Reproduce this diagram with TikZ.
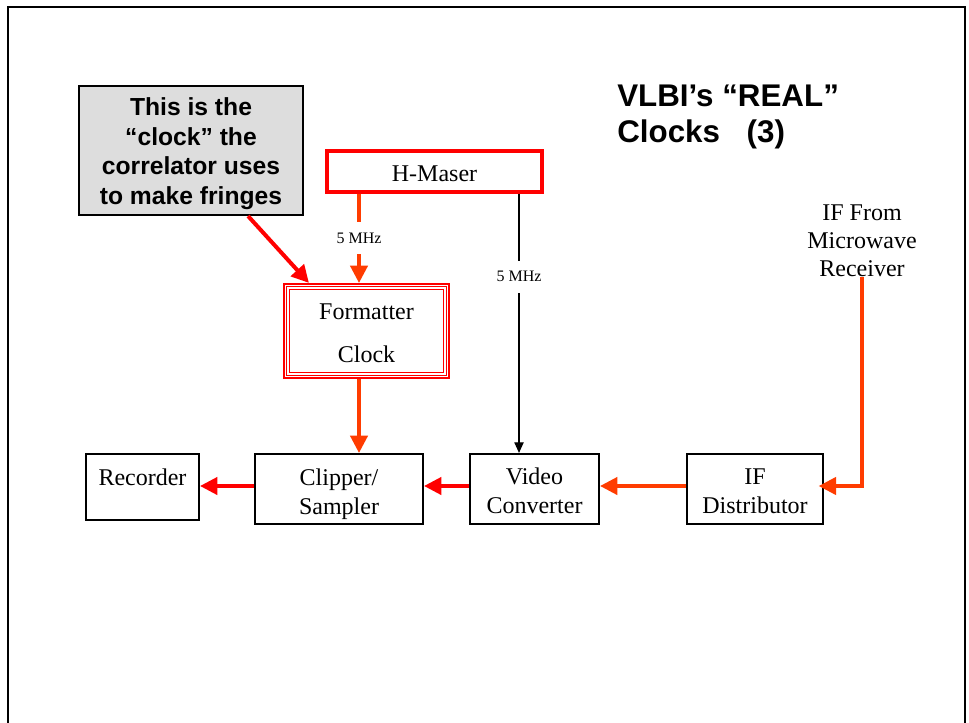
\documentclass[tikz,border=0pt]{standalone}
\usepackage{fontspec}
\setmainfont{Liberation Serif}
\setsansfont{Liberation Sans}
\usetikzlibrary{arrows.meta}
\definecolor{ored}{RGB}{255,60,0}
\definecolor{rred}{RGB}{255,0,0}
\definecolor{cgray}{RGB}{221,221,221}
\newcommand\mytstrut[1]{\rule{0pt}{#1}}
\begin{document}
\begin{tikzpicture}[x=0.75pt,y=-0.75pt,
  sz/.style 2 args={minimum width=#1*0.75pt,minimum height=#2*0.75pt},
  box/.style={draw=black,line width=1.6pt,inner sep=0pt,align=center,
    font=\fontsize{18}{21.75}\selectfont},
  arr/.style={line width=2.5pt,-{Triangle[length=13pt,width=13pt]}},
  lbl/.style={text=black,font=\fontsize{12}{14}\selectfont,fill=white,inner xsep=1pt,inner ysep=8pt},
  ttl/.style={font=\sffamily\bfseries\fontsize{23.5}{27}\selectfont,anchor=base west,inner sep=0pt}
]
\useasboundingbox (0,0) rectangle (969,723);
\fill[white] (0,0) rectangle (969,723);
\draw[line width=2.2pt] (8,723) -- (8,7) -- (965,7) -- (965,723);

% helper coordinates
\coordinate (colA) at (359,0);
\coordinate (colB) at (519,0);
\coordinate (row) at (0,486);

% callout
\node[draw=black,fill=cgray,line width=1.6pt,sz={224}{129},inner sep=0pt,
  align=center,font=\sffamily\bfseries\fontsize{18.5}{22.2}\selectfont] (call) at (191,150.5)
  {\mytstrut{18pt}This is the\\ “clock” the\\ correlator uses\\ to make fringes};

% title
\node[ttl] (t1) at (617,107) {VLBI’s “REAL”};
\node[ttl] (t2) at (617,143) {Clocks\hspace{20pt}(3)};

% H-Maser
\node[draw=rred,line width=2.6pt,sz={215}{41},inner sep=0pt,
  font=\fontsize{18}{21.75}\selectfont] (maser) at (434.5,171.5) {\mytstrut{15.5pt}H-Maser};

% Formatter clock (triple red border)
\node[draw=rred,line width=1.6pt,sz={165}{94},inner sep=0pt,align=center,
  font=\fontsize{18}{32}\selectfont] (fmt) at (366.5,331) {\mytstrut{15.5pt}Formatter\\ Clock};
\draw[rred,line width=0.8pt] ([shift={(3.5,3.5)}]fmt.north west) rectangle ([shift={(-3.5,-3.5)}]fmt.south east);
\draw[rred,line width=1.2pt] ([shift={(6.5,6.5)}]fmt.north west) rectangle ([shift={(-6.5,-6.5)}]fmt.south east);

% IF source text
\node[align=center,inner sep=0pt,font=\fontsize{18}{21}\selectfont] (iftxt) at (862,241)
  {IF From\\ Microwave\\ Receiver};

% bottom row
\node[box,sz={113}{66}] (rec) at (142.5,487) {\mytstrut{20pt}Recorder\\ \mbox{}};
\node[box,sz={168}{70}] (clip) at (339,489) {\mytstrut{20pt}Clipper/\\ Sampler};
\node[box,sz={129}{70}] (vc) at (534.5,489) {\mytstrut{15.5pt}Video\\ Converter};
\node[box,sz={136}{70}] (ifd) at (755,489) {\mytstrut{15.5pt}IF\\ Distributor};

% connectors
\draw[arr,ored] (maser.south -| colA) -- node[lbl] (l1) {5 MHz} (fmt.north -| colA);
\draw[line width=1pt,-{Triangle[length=8pt,width=7pt]}] (maser.south -| colB)
  -- node[lbl,pos=0.32] (l2) {5 MHz} (vc.north -| colB);
\draw[arr,ored] (fmt.south -| colA) -- (clip.north -| colA);
\draw[arr,rred,line width=3pt] ([shift={(-56,0)}]call.south east) -- ([shift={(26,0)}]fmt.north west);
\draw[arr,ored,shorten >=-4pt] (iftxt.south) |- (ifd.east |- row);
\draw[arr,ored] (ifd.west |- row) -- (vc.east |- row);
\draw[arr,rred] (vc.west |- row) -- (clip.east |- row);
\draw[arr,rred] (clip.west |- row) -- (rec.east |- row);
\end{tikzpicture}
\end{document}
